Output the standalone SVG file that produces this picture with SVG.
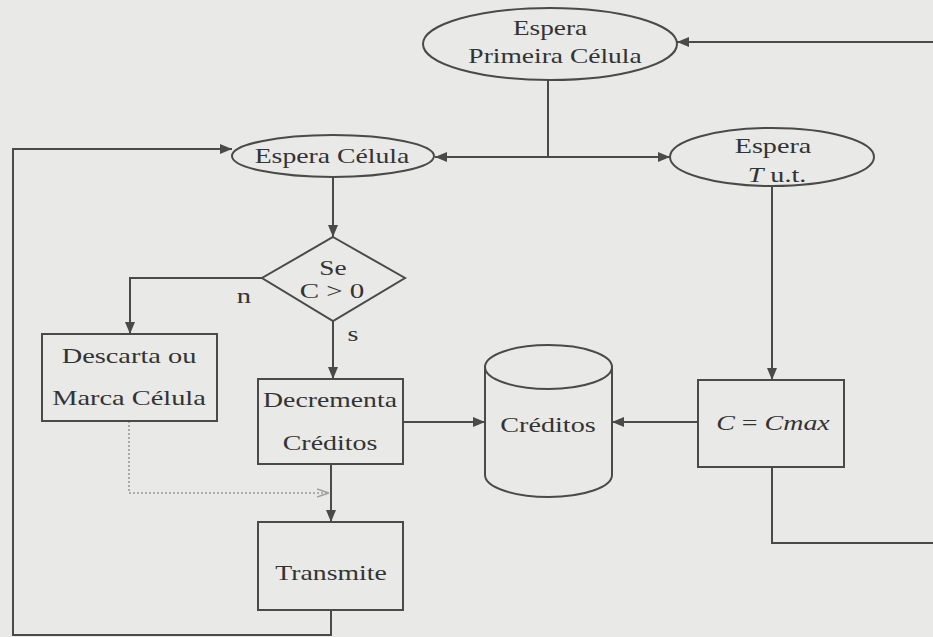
<svg xmlns="http://www.w3.org/2000/svg" width="933" height="637" viewBox="0 0 933 637">
  <defs>
    <style>
      .shape { fill: none; stroke: #4a4a4a; stroke-width: 2; }
      .edge { fill: none; stroke: #4a4a4a; stroke-width: 2; }
      .dotted { fill: none; stroke: #9a9a9a; stroke-width: 1.6; stroke-dasharray: 2 2; }
      .t { font-family: "Liberation Serif", "Times New Roman", serif; font-size: 22px; fill: #333333; text-anchor: middle; }
      .i { font-style: italic; }
    </style>
    <marker id="arrow" viewBox="0 0 12 10" refX="12" refY="5" markerWidth="12" markerHeight="10" markerUnits="userSpaceOnUse" orient="auto">
      <path d="M0,0 L12,5 L0,10 Z" fill="#4a4a4a"/>
    </marker>
    <marker id="arrowLight" viewBox="0 0 12 10" refX="12" refY="5" markerWidth="12" markerHeight="10" markerUnits="userSpaceOnUse" orient="auto">
      <path d="M0,1 L12,5 L0,9 M3,2 L12,5 L3,8" fill="none" stroke="#a0a0a0" stroke-width="1.5"/>
    </marker>
  </defs>

  <rect width="933" height="637" fill="#e9e9e7"/>

  <!-- connectors -->
  <g id="connectors">
    <path class="edge" d="M933,42 H677" marker-end="url(#arrow)"/>
    <path class="edge" d="M548,80 V157"/>
    <path class="edge" d="M548,157 H435" marker-end="url(#arrow)"/>
    <path class="edge" d="M548,157 H670" marker-end="url(#arrow)"/>
    <path class="edge" d="M333,178 V237" marker-end="url(#arrow)"/>
    <path class="edge" d="M262,278 H130 V334" marker-end="url(#arrow)"/>
    <path class="edge" d="M333,321 V379" marker-end="url(#arrow)"/>
    <path class="edge" d="M331,464 V522" marker-end="url(#arrow)"/>
    <path class="edge" d="M331,610 V635 H13 V149 H232" marker-end="url(#arrow)"/>
    <path class="edge" d="M403,422 H485" marker-end="url(#arrow)"/>
    <path class="edge" d="M698,422 H612" marker-end="url(#arrow)"/>
    <path class="edge" d="M772,187 V380" marker-end="url(#arrow)"/>
    <path class="edge" d="M772,467 V543 H933"/>
    <path class="dotted" d="M129,421 V493 H329" marker-end="url(#arrowLight)"/>
    <text class="t" transform="translate(244,303) scale(1.3,1)">n</text>
    <text class="t" transform="translate(353,341) scale(1.27,1)">s</text>
  </g>

  <!-- nodes -->
  <g id="espera-primeira">
    <ellipse class="shape" cx="550" cy="44" rx="127" ry="36"/>
    <text class="t" transform="translate(550,35) scale(1.24,1)">Espera</text>
    <text class="t" transform="translate(555,63) scale(1.25,1)">Primeira Célula</text>
  </g>

  <g id="espera-celula">
    <ellipse class="shape" cx="333" cy="156" rx="101" ry="21"/>
    <text class="t" transform="translate(332,163) scale(1.26,1)">Espera Célula</text>
  </g>

  <g id="espera-t">
    <ellipse class="shape" cx="772" cy="157" rx="102" ry="29"/>
    <text class="t" transform="translate(773,153) scale(1.28,1)">Espera</text>
    <text class="t" transform="translate(777,182) scale(1.28,1)"><tspan class="i">T</tspan> u.t.</text>
  </g>

  <g id="decisao">
    <polygon class="shape" points="333,237 405,278 333,321 262,278"/>
    <text class="t" transform="translate(333,275) scale(1.24,1)">Se</text>
    <text class="t" transform="translate(332,298) scale(1.32,1)">C &gt; 0</text>
  </g>

  <g id="descarta">
    <rect class="shape" x="42" y="334" width="175" height="87"/>
    <text class="t" transform="translate(129,363) scale(1.29,1)">Descarta ou</text>
    <text class="t" transform="translate(129,405) scale(1.29,1)">Marca Célula</text>
  </g>

  <g id="decrementa">
    <rect class="shape" x="258" y="379" width="145" height="85"/>
    <text class="t" transform="translate(330,407) scale(1.26,1)">Decrementa</text>
    <text class="t" transform="translate(330,450) scale(1.27,1)">Créditos</text>
  </g>

  <g id="transmite">
    <rect class="shape" x="258" y="522" width="145" height="88"/>
    <text class="t" transform="translate(331,580) scale(1.26,1)">Transmite</text>
  </g>

  <g id="creditos">
    <path class="shape" d="M485,367 V475 A63.5,22 0 0 0 612,475 V367"/>
    <ellipse class="shape" cx="548.5" cy="367" rx="63.5" ry="22"/>
    <text class="t" transform="translate(548,432) scale(1.28,1)">Créditos</text>
  </g>

  <g id="cmax">
    <rect class="shape" x="698" y="380" width="146" height="87"/>
    <text class="t" transform="translate(773,430) scale(1.27,1)"><tspan class="i">C</tspan> = <tspan class="i">Cmax</tspan></text>
  </g>
</svg>
